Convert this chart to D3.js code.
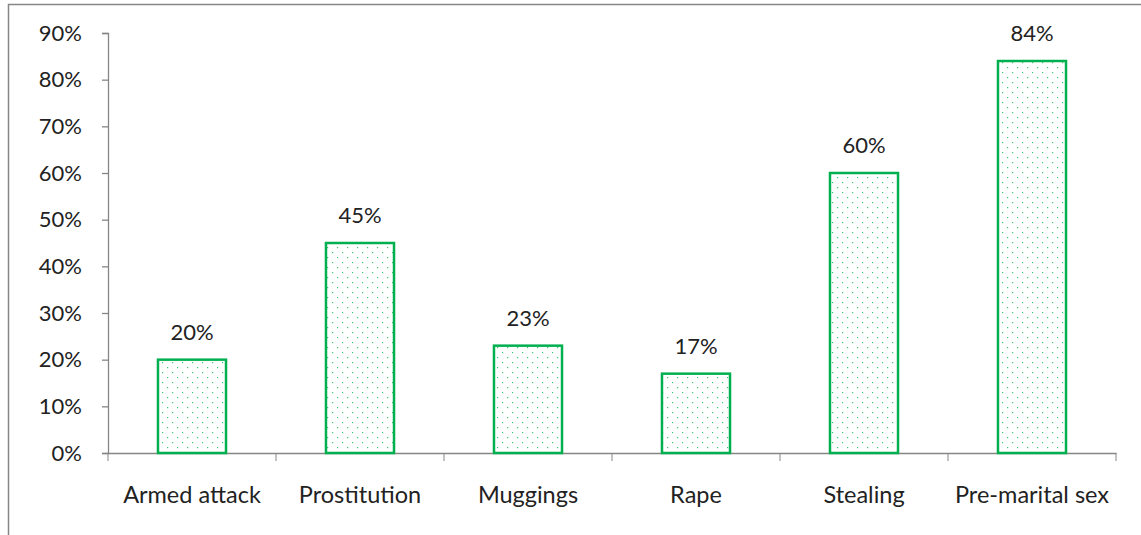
<!DOCTYPE html>
<html>
<head>
<meta charset="utf-8">
<script src="https://cdn.jsdelivr.net/npm/d3@7"></script>
<style>
  body { margin: 0; background: #fff; }
  text { font-family: Lato, "Open Sans", sans-serif; fill: #222; }
</style>
</head>
<body>
<div id="chart"></div>
<script>
var categories = ["Armed attack", "Prostitution", "Muggings", "Rape", "Stealing", "Pre-marital sex"];
var values = [0.20, 0.45, 0.23, 0.17, 0.60, 0.84];
var yTicks = [0, 0.1, 0.2, 0.3, 0.4, 0.5, 0.6, 0.7, 0.8, 0.9];

var W = 1141, H = 535;
var margin = {top: 33, right: 25, bottom: 82, left: 108};

var svg = d3.select("#chart").append("svg").attr("width", W).attr("height", H);

// dotted fill
var pat = svg.append("defs").append("pattern")
    .attr("id", "dots").attr("patternUnits", "userSpaceOnUse")
    .attr("width", 10).attr("height", 10);
pat.append("rect").attr("width", 10).attr("height", 10).attr("fill", "#fff");
pat.append("rect").attr("x", 2).attr("y", 2).attr("width", 1.2).attr("height", 1.2).attr("fill", "#3cc872");
pat.append("rect").attr("x", 7).attr("y", 7).attr("width", 1.2).attr("height", 1.2).attr("fill", "#3cc872");

// outer frame
svg.append("rect").attr("x", 8.5).attr("y", 4.5).attr("width", W + 20).attr("height", H + 20)
    .attr("fill", "none").attr("stroke", "#868686").attr("stroke-width", 1.5);

var x = d3.scaleBand().domain(categories).range([margin.left, W - margin.right]).paddingInner(0).paddingOuter(0);
var y = d3.scaleLinear().domain([0, 0.9]).range([H - margin.bottom, margin.top]);

var g = svg.append("g");

// y axis
var yAxis = g.append("g").attr("transform", "translate(" + margin.left + ",0)")
    .call(d3.axisLeft(y).tickValues(yTicks).tickFormat(d3.format(".0%")).tickSize(6).tickPadding(20));
yAxis.selectAll("text").style("font-size", "22px").attr("fill", "#222");

// x axis
var xAxis = g.append("g").attr("transform", "translate(0," + y(0) + ")")
    .call(d3.axisBottom(x).tickSize(0).tickPadding(30));
xAxis.selectAll("text").style("font-size", "23.5px").attr("fill", "#222").attr("dy", "0.85em");
// category boundary ticks
xAxis.selectAll(".bound").data(d3.range(categories.length + 1)).enter().append("line")
    .attr("class", "bound")
    .attr("x1", function(i) { return margin.left + i * x.step(); })
    .attr("x2", function(i) { return margin.left + i * x.step(); })
    .attr("y1", 0).attr("y2", 8)
    .attr("stroke", "#868686");

svg.selectAll(".domain, .tick line").attr("stroke", "#868686").attr("stroke-width", 1.3);

// bars
var bw = x.bandwidth() * 0.405;
g.selectAll(".bar").data(values).enter().append("rect")
    .attr("class", "bar")
    .attr("x", function(d, i) { return x(categories[i]) + x.bandwidth() / 2 - bw / 2; })
    .attr("y", function(d) { return y(d); })
    .attr("width", bw)
    .attr("height", function(d) { return y(0) - y(d); })
    .attr("fill", "url(#dots)")
    .attr("stroke", "#00b050")
    .attr("stroke-width", 2.5);

// labels
g.selectAll(".lbl").data(values).enter().append("text")
    .attr("class", "lbl")
    .attr("x", function(d, i) { return x(categories[i]) + x.bandwidth() / 2; })
    .attr("y", function(d) { return y(d) - 20; })
    .attr("text-anchor", "middle")
    .style("font-size", "22px")
    .text(function(d) { return d3.format(".0%")(d); });
</script>
</body>
</html>
